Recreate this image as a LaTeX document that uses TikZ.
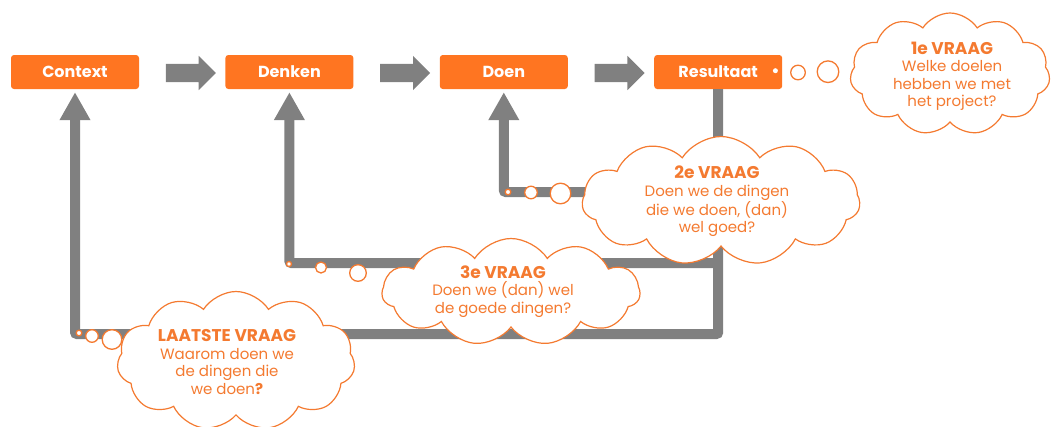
\documentclass[tikz,border=0pt]{standalone}
\usepackage{fontspec}
\setmainfont{Poppins}
\usetikzlibrary{shapes.symbols,shapes.arrows,arrows.meta,calc,positioning}
\definecolor{oranje}{RGB}{255,117,33}
\definecolor{tekstoranje}{RGB}{244,122,48}
\definecolor{grijs}{RGB}{128,128,128}
\newcommand{\vraagtitel}[1]{{\fontsize{17}{17.5}\selectfont\bfseries #1}}
\begin{document}
\begin{tikzpicture}[x=1pt,y=-1pt,
  stapbox/.style={fill=oranje, rounded corners=3pt, minimum width=128pt, minimum height=34pt,
    inner sep=0pt, text=white, font=\fontsize{16}{18}\selectfont\bfseries},
  blokpijl/.style={single arrow, fill=grijs, minimum height=50pt, inner xsep=0pt, inner ysep=9pt,
    single arrow head extend=8pt, single arrow head indent=0pt},
  terug/.style={draw=grijs, line width=10pt, rounded corners=2pt,
    -{Triangle[width=29pt,length=28pt]}, shorten >=3pt},
  wolk/.style={cloud, cloud puffs=11, cloud puff arc=115, cloud ignores aspect,
    draw=tekstoranje, line width=1.2pt, fill=white, inner sep=0pt},
  wolktekst/.style={text=tekstoranje, align=center, font=\fontsize{15}{17.5}\selectfont},
  bel/.style={draw=tekstoranje, line width=1.3pt, fill=white}
]
\useasboundingbox (0,0) rectangle (1056,426);

% de vier stappen
\node[stapbox] (context) at (75,72) {Context};
\node[stapbox, right=86pt of context] (denken) {Denken};
\node[stapbox, right=86pt of denken] (doen) {Doen};
\node[stapbox, right=86pt of doen] (resultaat) {Resultaat};

\foreach \a/\b in {context/denken, denken/doen, doen/resultaat}
  \node[blokpijl] at ($(\a.east)!0.5!(\b.west)+(4,1)$) {};

% terugkoppeling
\coordinate (hoog) at (0,192);
\coordinate (midden) at (0,263);
\coordinate (laag) at (0,334);
\draw[terug] (resultaat.south) -- (resultaat.south |- laag) -- (context.south |- laag) -- (context.south);
\draw[terug] (resultaat.south |- midden) -- (denken.south |- midden) -- (denken.south);
\draw[terug] (resultaat.south |- hoog) -- (doen.south |- hoog) -- (doen.south);

% wolken
\node[wolk, minimum width=258pt, minimum height=107pt] (wolk3) at (511,292) {};
\node[wolk, minimum width=278pt, minimum height=129pt] (wolk2) at (721,201) {};
\node[wolk, minimum width=200pt, minimum height=122pt] (wolk1) at (950,74) {};
\node[wolk, minimum width=238pt, minimum height=139pt] (wolk4) at (236,361) {};

\node[wolktekst] (vraag1) at (952,76) {\vraagtitel{1e VRAAG}\\Welke doelen\\hebben we met\\het project?};
\node[wolktekst] (vraag2) at (717,201.5) {\vraagtitel{2e VRAAG}\\Doen we de dingen\\die we doen, (dan)\\wel goed?};
\node[wolktekst] (vraag3) at (503,291.5) {\vraagtitel{3e VRAAG}\\Doen we (dan) wel\\de goede dingen?};
\node[wolktekst] (vraag4) at (227,362) {\vraagtitel{LAATSTE VRAAG}\\Waarom doen we\\de dingen die\\we doen\textbf{?}};

% gedachtebelletjes
\foreach \x/\y/\r in {508/192/2.8, 531/192.5/6.3, 560.5/193.5/10.3,
    289/264/2.5, 321/267.5/5.5, 358/273/8.3,
    79/333/2.8, 92/336/6.3, 112/339.5/9.8,
    798/72.5/7.3, 828/71.7/10.8}
  \draw[bel] (\x,\y) circle[radius=\r];
\fill[white] ($(resultaat.east)+(-7,-1.3)$) circle[radius=2.5];
\end{tikzpicture}
\end{document}
